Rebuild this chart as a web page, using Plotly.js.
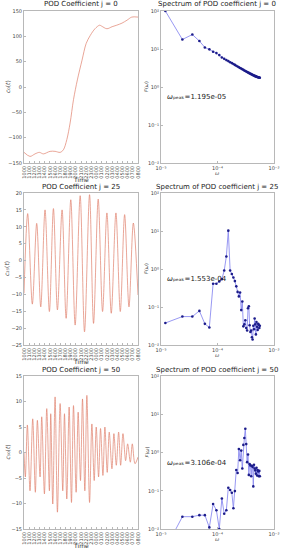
<!DOCTYPE html>
<html><head><meta charset="utf-8">
<script src="https://cdn.plot.ly/plotly-3.0.1.min.js"></script>
<style>html,body{margin:0;padding:0;background:#fff}#c{width:282px;height:550px}</style>
</head><body><div id="c"></div>
<script>
// Time tick labels (hours, 10:00 -> 08:00 next day)
const timeLabels = ["1000","1100","1200","1300","1400","1500","1600","1700","1800","1900","2000","2100","2200","2300","0000","0100","0200","0300","0400","0500","0600","0700","0800"];

// j = 0 coefficient (time in hours after 10:00)
const t0 = [0,1.16,2.13,2.97,3.74,5.03,6.0,6.97,7.6,8.26,8.9,9.55,10.3,11.2,12.0,12.8,13.7,14.6,15.0,16.0,17.0,17.9,18.9,19.9,20.8,22];
const c0 = [-129,-137,-132,-129,-132,-127,-127,-129,-124,-104,-71,-25,14,53,86,102,115,122,120,115,119,122,126,132,138,138];

// j = 25 coefficient
const t25 = [0,0.71,1.61,2.45,3.23,4.06,4.90,5.68,6.45,7.35,8.13,9.03,9.87,10.84,11.68,12.65,13.42,14.32,15.16,16.0,16.84,17.74,18.58,19.42,20.26,21.10,22.0];
const c25 = [-9.7,13.9,-12.9,11,-13.7,15.0,-15.1,15.4,-14.6,15,-17.1,18,-19.1,19.2,-21.1,19.5,-18.6,18.2,-15.1,14.1,-15.6,14.1,-15.1,13.6,-13.7,11.1,-10.2];

// j = 50 coefficient
const t50 = [0,0.26,0.65,1.16,1.68,2.19,2.58,3.10,3.42,3.94,4.39,4.90,5.16,5.55,6.0,6.45,6.97,7.48,7.81,8.26,8.71,9.16,9.55,10.06,10.45,10.90,11.29,11.74,12.13,12.65,13.10,13.55,13.94,14.39,14.77,15.23,15.61,16.06,16.45,16.97,17.35,17.81,18.26,18.65,19.10,19.61,20.0,20.52,20.90,21.42,22.0];
const c50 = [0,-4.8,5.4,-7.5,6.6,-7.8,6.3,-4.8,7.0,-8.1,8.6,-7.5,7.6,-10.1,10.9,-11.7,9.6,-7.5,7.6,-9.1,8.9,-9.8,9.2,-7.8,7.9,-5.5,10.5,-7.5,11.2,-9.8,5.6,-5.5,5.0,-4.8,4.7,-4.5,5.0,-3.9,4.0,-3.2,3.7,-2.5,4.0,-2.5,3.7,-1.6,1.7,-1.9,1.7,-2.2,-0.9];

// Spectra: frequency index k (omega = k * dOmega)
const dOmega = 1.195e-5;
const kIdx = [1,2,3,4,5,6,7,8,9,10,11,12,13,14,15,16,17,18,19,20,21,22,23,24,25,26,27,28,29,30,31,32,33,34,35,36,37,38,39,40,41,42,43,44,45,46,47];
const F0 = [100,17.8,24,16.2,11,9.8,8.5,7.8,6.9,6.0,5.5,5.1,4.8,4.5,4.25,4.02,3.82,3.63,3.46,3.31,3.17,3.05,2.93,2.83,2.73,2.64,2.56,2.48,2.41,2.35,2.29,2.23,2.18,2.13,2.08,2.04,2.00,1.96,1.93,1.90,1.87,1.84,1.82,1.80,1.78,1.76,1.75];
const F25 = [0.038,0.056,0.056,0.079,0.036,0.029,0.41,0.41,0.47,0.54,0.91,2.14,10.2,0.91,0.74,0.60,0.48,0.35,0.25,0.19,0.24,0.083,0.14,0.031,0.035,0.045,0.028,0.024,0.093,0.105,0.033,0.022,0.024,0.016,0.014,0.032,0.026,0.050,0.035,0.019,0.040,0.030,0.025,0.036,0.034,0.028,0.032];
const F50 = [0.003,0.021,0.021,0.023,0.023,0.011,0.045,0.031,0.010,0.063,0.025,0.031,0.12,0.105,0.089,0.035,0.098,0.35,0.29,1.23,0.63,1.12,0.38,1.58,2.40,4.17,1.66,0.56,0.89,0.26,0.50,0.46,0.24,0.45,0.42,0.13,0.48,0.38,0.34,0.28,0.40,0.25,0.35,0.32,0.24,0.33,0.24];

const peakLabels = ["1.195e-05","1.553e-04","3.106e-04"];
const yLabelSubs = ["₀","₂₅","₅₀"];
const specYTicks = [0.01,0.1,1,10,100];
const specYText = ["10⁻²","10⁻¹","10⁰","10¹","10²"];
const specXTicks = [1e-5,1e-4,1e-3];
const specXText = ["10⁻⁵","10⁻⁴","10⁻³"];

const omega = kIdx.map(k => k * dOmega);

const W = 282, H = 550;
const px = v => v / W, py = v => 1 - v / H;
const leftX = [px(24), px(138)], rightX = [px(161), px(274)];
const rows = [[11,163],[193,345],[376,529]];

const lineCol = '#e0806c';
const tf = {size:5, color:'#444', family:'DejaVu Sans'};
const axisBase = {showline:true, mirror:true, linecolor:'#b8b8b8', linewidth:1, showgrid:false, zeroline:false,
  ticks:'inside', ticklen:2, tickcolor:'#b8b8b8', tickfont:tf};

const data = [], layout = {width:W, height:H, margin:{l:0,r:0,t:0,b:0}, showlegend:false,
  paper_bgcolor:'#fff', plot_bgcolor:'#fff', annotations:[], font:{family:'DejaVu Sans', size:7}};

const series = [[t0,c0,[-150,150],50,'0'],[t25,c25,[-25,20],5,'25'],[t50,c50,[-15,15],5,'50']];
const spectra = [F0,F25,F50];

series.forEach((s, i) => {
  const n = i * 2 + 1, m = i * 2 + 2;
  const xa = 'xaxis' + n, ya = 'yaxis' + n, xb = 'xaxis' + m, yb = 'yaxis' + m;
  data.push({x:s[0], y:s[1], xaxis:'x'+n, yaxis:'y'+n, mode:'lines',
    line:{color:lineCol, width:0.7, shape:'spline', smoothing:0.9}, hoverinfo:'skip'});
  data.push({x:omega, y:spectra[i], xaxis:'x'+m, yaxis:'y'+m, mode:'lines+markers',
    line:{color:'#8c8cf0', width:0.9}, marker:{color:'#1c1c8a', size:2.6}, hoverinfo:'skip'});
  const r = rows[i];
  layout[xa] = Object.assign({}, axisBase, {domain:leftX, anchor:'y'+n, range:[0,22],
    tickvals:timeLabels.map((_, k) => k), ticktext:timeLabels, tickangle:-90});
  layout[ya] = Object.assign({}, axisBase, {domain:[py(r[1]), py(r[0])], anchor:'x'+n, range:s[2], dtick:s[3], tick0:0});
  layout[xb] = Object.assign({}, axisBase, {domain:rightX, anchor:'y'+m, type:'log', range:[-5,-3],
    tickvals:specXTicks, ticktext:specXText});
  layout[yb] = Object.assign({}, axisBase, {domain:[py(r[1]), py(r[0])], anchor:'x'+m, type:'log', range:[-2,2],
    tickvals:specYTicks, ticktext:specYText});

  const A = layout.annotations;
  A.push({xref:'paper', yref:'paper', x:(leftX[0]+leftX[1])/2, y:py(r[0]-0.5), xanchor:'center', yanchor:'bottom',
    text:'POD Coefficient j = ' + s[4], showarrow:false, font:{size:7, color:'#222'}});
  A.push({xref:'paper', yref:'paper', x:(rightX[0]+rightX[1])/2, y:py(r[0]-0.5), xanchor:'center', yanchor:'bottom',
    text:'Spectrum of POD coefficient j = ' + s[4], showarrow:false, font:{size:7, color:'#222'}});
  A.push({xref:'paper', yref:'paper', x:(leftX[0]+leftX[1])/2, y:py(r[1]+16), xanchor:'center', yanchor:'middle',
    text:'Time', showarrow:false, font:{size:6, color:'#333'}});
  A.push({xref:'paper', yref:'paper', x:(rightX[0]+rightX[1])/2, y:py(r[1]+10), xanchor:'center', yanchor:'middle',
    text:'<i>ω</i>', showarrow:false, font:{size:5, color:'#444'}});
  A.push({xref:'paper', yref:'paper', x:px(7), y:py((r[0]+r[1])/2), xanchor:'center', yanchor:'middle', textangle:-90,
    text:'<i>c</i>' + yLabelSubs[i] + '(<i>t</i>)', showarrow:false, font:{size:6, color:'#444'}});
  A.push({xref:'paper', yref:'paper', x:px(146), y:py((r[0]+r[1])/2), xanchor:'center', yanchor:'middle', textangle:-90,
    text:'<i>F</i>(<i>ω</i>)', showarrow:false, font:{size:5, color:'#444'}});
  A.push({xref:'x'+m, yref:'y'+m, x:-4.93, y:-0.27, xanchor:'left', yanchor:'middle',
    text:'<i>ω</i>ₚₑₐₖ=' + peakLabels[i], showarrow:false, font:{size:7, color:'#222'}});
});

Plotly.newPlot('c', data, layout, {displayModeBar:false});
</script></body></html>
